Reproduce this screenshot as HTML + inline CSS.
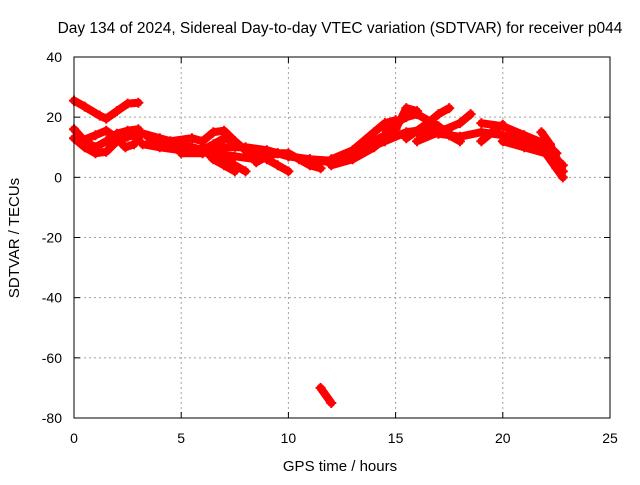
<!DOCTYPE html>
<html><head><meta charset="utf-8"><style>
body{margin:0;background:#fff;}
svg{font-family:"Liberation Sans",sans-serif;font-size:14px;}
</style></head><body>
<svg id="chart" width="640" height="480">
<text x="340" y="33" text-anchor="middle" style="font-size:15.5px">Day 134 of 2024, Sidereal Day-to-day VTEC variation (SDTVAR) for receiver p044</text>
<text x="340" y="471" text-anchor="middle" style="font-size:15px">GPS time / hours</text>
<text transform="translate(19,238) rotate(-90)" text-anchor="middle" style="font-size:15px">SDTVAR / TECUs</text>
<g id="grid"></g><g id="marks"></g>
<rect x="74" y="57" width="536" height="361" fill="none" stroke="#000" stroke-width="1"/>
</svg>
<script>
const xTicks=[0,5,10,15,20,25];
const yTicks=[40,20,0,-20,-40,-60,-80];
const t1=[[0,25.5],[0.5,23.5],[1.2,20.5],[1.5,19.5],[2,22],[2.5,24.5],[3,24.8]];
const t2=[[0,16],[0.5,12],[1,10],[1.5,12],[2,14.5],[2.5,15.5],[3,16]];
const t3=[[0,13],[0.5,10],[1,8],[1.5,8.5],[2,12],[2.5,13.5],[2.8,14]];
const t4=[[0.3,12],[1,14],[1.5,15.5],[2,13],[2.4,10],[2.8,11],[3,13]];
const t5=[[3,15],[4,13],[5,11],[6,9],[7,6],[7.5,4],[8,2]];
const t6=[[3.2,11],[4,10],[5,9],[6,9],[6.5,11],[7,13],[7.5,12]];
const t7=[[4.5,12],[5.5,13],[6,12],[6.5,15],[7,15.5],[7.5,12],[8,9],[8.5,7]];
const t8=[[5,8],[6,8],[7,10],[8,10],[9,9],[10,7],[11,6],[12,5]];
const t9=[[6,10],[6.5,6],[7,4],[7.5,2]];
const t10=[[8.3,9],[9,6],[9.5,4],[10,2]];
const t11=[[8.5,5],[9,7],[9.5,8],[10,8],[10.5,6],[11,4],[11.5,3]];
const t12=[[9.5,8],[10,7],[11,6],[12,5.5]];
const t13=[[11.5,-70],[12,-75]];
const t14=[[12,4],[13,6],[14,10],[14.5,13],[15,14],[16,15],[17,14.5],[18,13.5],[19,15],[20,14],[21,12],[22,8],[22.5,6],[22.8,4]];
const t15=[[12,6],[13,9],[14,15],[14.5,18],[15,19]];
const t16=[[13,7],[14,12],[15,16],[15.5,23],[16,22]];
const t17=[[14.5,16],[15.5,20],[16,21],[17,17],[17.5,14],[18,12]];
const t18=[[15.5,13],[16.5,18],[17,21],[17.5,23]];
const t19=[[16,12],[17,15],[18,18],[18.5,21]];
const t20=[[19,18],[20,17],[21,14],[22,11],[22.5,8]];
const t21=[[20,12],[21,10],[22,8],[22.5,3],[22.8,0]];
const t22=[[21.8,15],[22.2,11],[22.6,5],[22.8,2]];
const t23=[[19,12],[19.5,15],[20,17.5]];
const t24=[[3.5,13],[4.5,11],[5.5,10],[6.5,8],[7.5,7],[8.5,6]];
const t25=[[12.5,6],[13.5,9],[14.5,12],[15.5,15],[16.5,16],[17.5,16]];
const tracks=[t1,t2,t3,t4,t5,t6,t7,t8,t9,t10,t11,t12,t13,t14,t15,t16,t17,t18,t19,t20,t21,t22,t23,t24,t25];
const NS="http://www.w3.org/2000/svg";
const X=h=>74+h*536/25;
const Y=v=>57+(40-v)*361/120;
const grid=document.getElementById('grid');
const marks=document.getElementById('marks');
function mk(tag,attrs,parent){const e=document.createElementNS(NS,tag);for(const k in attrs)e.setAttribute(k,attrs[k]);parent.appendChild(e);return e;}
xTicks.forEach(t=>{
  if(t>0&&t<25){const g=mk('line',{x1:X(t),x2:X(t),y1:57,y2:418,stroke:'#a0a0a0','stroke-dasharray':'2,3'},grid);
  
  }
  mk('line',{x1:X(t),x2:X(t),y1:418,y2:412,stroke:'#000'},grid);
  mk('line',{x1:X(t),x2:X(t),y1:57,y2:63,stroke:'#000'},grid);
  const l=mk('text',{x:X(t),y:443,'text-anchor':'middle'},grid);l.textContent=t;
  
  
});
yTicks.forEach(t=>{
  if(t<40&&t>-80){const g=mk('line',{x1:74,x2:610,y1:Y(t),y2:Y(t),stroke:'#a0a0a0','stroke-dasharray':'2,3'},grid);
  
  }
  mk('line',{x1:74,x2:80,y1:Y(t),y2:Y(t),stroke:'#000'},grid);
  mk('line',{x1:604,x2:610,y1:Y(t),y2:Y(t),stroke:'#000'},grid);
  const l=mk('text',{x:62,y:Y(t)+5,'text-anchor':'end'},grid);l.textContent=t;
  
  
});
tracks.forEach(tr=>{
  const p=mk('polyline',{points:tr.map(d=>X(d[0])+','+Y(d[1])).join(' '),fill:'none',stroke:'#ff0000','stroke-width':8,'stroke-linejoin':'round','stroke-linecap':'round'},marks);
  
  
  tr.forEach(d=>{
    const m=mk('path',{d:`M${X(d[0])-5},${Y(d[1])}h10M${X(d[0])},${Y(d[1])-5}v10`,stroke:'#ff0000','stroke-width':2},marks);
    
    
  });
});
</script>
</body></html>
